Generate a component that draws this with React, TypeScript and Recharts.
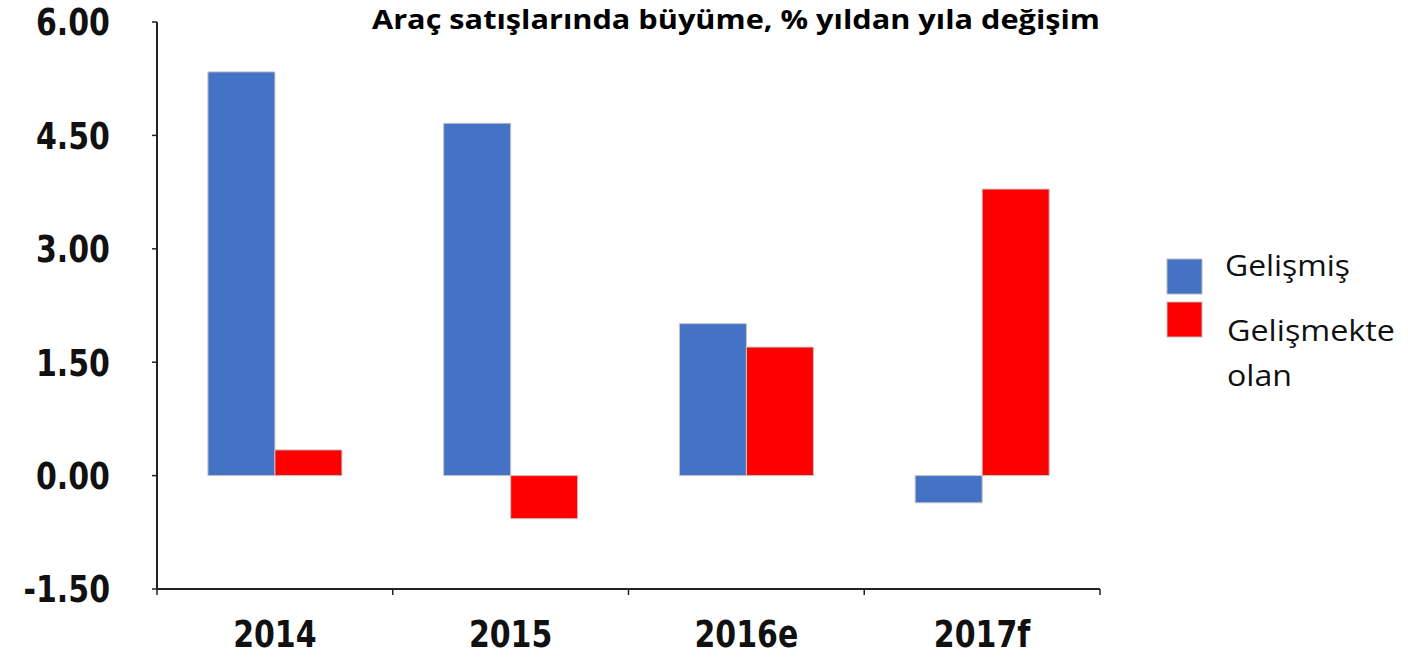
import { BarChart, Bar, XAxis, YAxis } from "recharts";

const categories = ["2014", "2015", "2016e", "2017f"];
const gelismis = [5.34, 4.66, 2.01, -0.36];
const gelismekte = [0.34, -0.57, 1.7, 3.79];
const yTicks = [-1.5, 0, 1.5, 3, 4.5, 6];

const BLUE = "#4472C4";
const RED = "#FF0000";
const AXIS = "#222";

const data = categories.map((year, i) => ({
  year,
  gelismis: gelismis[i],
  gelismekte: gelismekte[i],
}));

function YTick({ y, payload }: any) {
  return (
    <g transform={`translate(110, ${y}) scale(1, 1.24)`}>
      <text
        textAnchor="end"
        dy="0.36em"
        fontFamily="DejaVu Sans"
        fontWeight="bold"
        fontSize={30}
        fill="#111"
      >
        {Number(payload.value).toFixed(2)}
      </text>
    </g>
  );
}

// category label plus tick marks on the band edges (Excel style)
function XTick({ x, y, payload, index }: any) {
  const half = typeof payload.offset === "number" && payload.offset > 0 ? payload.offset : 943 / 8;
  const last = index === categories.length - 1;
  return (
    <g>
      <line x1={x - half} x2={x - half} y1={y} y2={y + 6} stroke={AXIS} strokeWidth={1.5} />
      {last && <line x1={x + half} x2={x + half} y1={y} y2={y + 6} stroke={AXIS} strokeWidth={1.5} />}
      <g transform={`translate(${x}, ${y + 45}) scale(1, 1.24)`}>
        <text
          textAnchor="middle"
          dy="0.36em"
          fontFamily="DejaVu Sans"
          fontWeight="bold"
          fontSize={30}
          fill="#111"
        >
          {payload.value}
        </text>
      </g>
    </g>
  );
}

function Overlay() {
  const font = { fontFamily: "Open Sans", fontSize: 29, fill: "#111" };
  return (
    <svg
      width={1408}
      height={657}
      style={{ position: "absolute", left: 0, top: 0, pointerEvents: "none" }}
    >
      <text
        x={372}
        y={29}
        textLength={728}
        lengthAdjust="spacingAndGlyphs"
        fontFamily="Open Sans"
        fontWeight="bold"
        fontSize={27}
        fill="#000"
      >
        Araç satışlarında büyüme, % yıldan yıla değişim
      </text>
      <rect x={1167} y={259} width={35} height={35} fill={BLUE} stroke="#bbb" />
      <rect x={1167} y={302} width={35} height={35} fill={RED} stroke="#bbb" />
      <text x={1225} y={276} textLength={125} lengthAdjust="spacingAndGlyphs" {...font}>
        Gelişmiş
      </text>
      <text x={1227} y={341} textLength={168} lengthAdjust="spacingAndGlyphs" {...font}>
        Gelişmekte
      </text>
      <text x={1227} y={386} textLength={65} lengthAdjust="spacingAndGlyphs" {...font}>
        olan
      </text>
    </svg>
  );
}

export default function App() {
  return (
    <div style={{ position: "absolute", left: 0, top: 0, width: 1408, height: 657, background: "#fff" }}>
      <BarChart
        width={1408}
        height={657}
        data={data}
        margin={{ top: 22, right: 308, bottom: 0, left: 0 }}
        barCategoryGap="21.6%"
        barGap={0}
      >
        <XAxis
          dataKey="year"
          height={68}
          axisLine={{ stroke: AXIS, strokeWidth: 2 }}
          tickLine={false}
          tickSize={0}
          tickMargin={0}
          interval={0}
          tick={XTick}
        />
        <YAxis
          width={157}
          domain={[-1.5, 6]}
          ticks={yTicks}
          interval={0}
          allowDataOverflow
          tickSize={5}
          axisLine={{ stroke: AXIS, strokeWidth: 2 }}
          tickLine={{ stroke: AXIS, strokeWidth: 1.5 }}
          tick={YTick}
        />
        <Bar
          dataKey="gelismis"
          name="Gelişmiş"
          fill={BLUE}
          stroke="#c4c4c4"
          strokeWidth={1}
          isAnimationActive={false}
        />
        <Bar
          dataKey="gelismekte"
          name="Gelişmekte olan"
          fill={RED}
          stroke="#c4c4c4"
          strokeWidth={1}
          isAnimationActive={false}
        />
      </BarChart>
      <Overlay />
    </div>
  );
}
